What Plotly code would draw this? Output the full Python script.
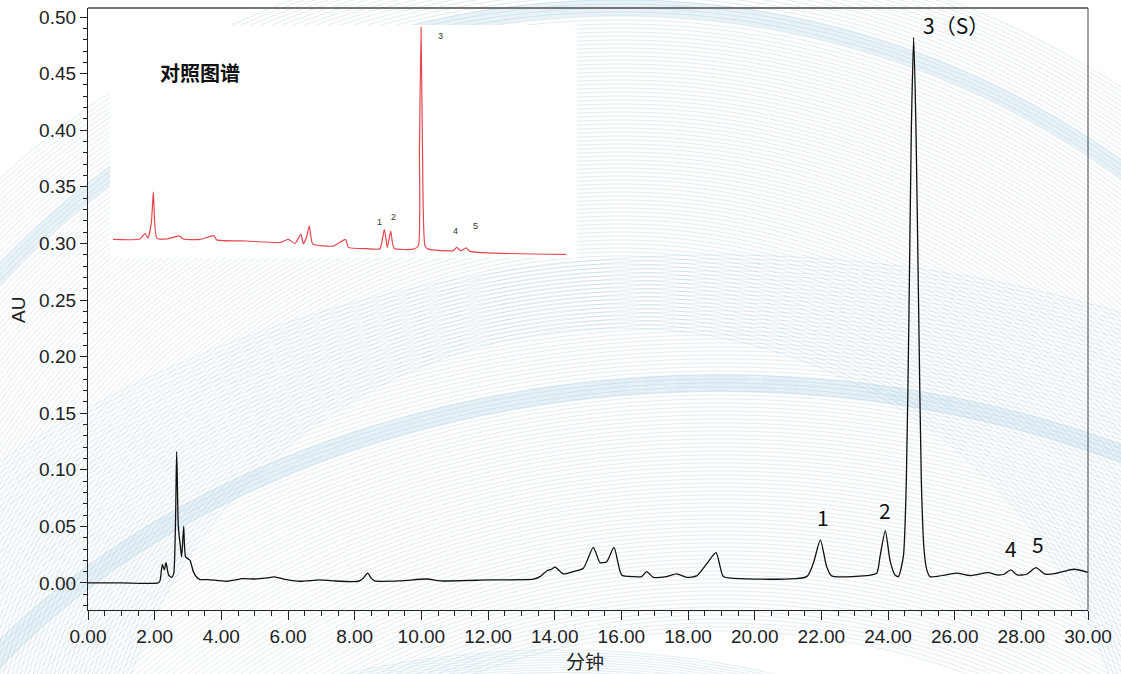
import numpy as np
import plotly.graph_objects as go

# ---- main chromatogram (retention time in min, absorbance in AU) ----
time_min = [0.00, 1.00, 2.10, 2.16, 2.23, 2.29, 2.34, 2.42, 2.51, 2.57, 2.66, 2.71,
            2.78, 2.81, 2.87, 2.93, 3.06, 3.16, 3.26, 3.36, 3.60, 4.16, 4.65, 5.00,
            5.36, 5.58, 5.96, 6.36, 6.96, 7.36, 8.11, 8.25, 8.39, 8.50, 8.60, 9.36,
            10.16, 10.56, 12.06, 13.36, 13.56, 13.76, 13.90, 14.01, 14.26, 14.56,
            14.86, 15.16, 15.36, 15.56, 15.78, 16.01, 16.36, 16.61, 16.76, 16.96,
            17.36, 17.66, 17.96, 18.26, 18.56, 18.84, 19.06, 19.36, 21.56, 21.76,
            21.97, 22.16, 22.31, 23.26, 23.66, 23.76, 23.92, 24.06, 24.21, 24.31,
            24.46, 24.55, 24.63, 24.70, 24.77, 24.84, 24.92, 25.00, 25.08, 25.16,
            25.26, 26.06, 26.46, 27.01, 27.26, 27.48, 27.68, 27.88, 28.16, 28.44,
            28.71, 29.06, 29.58, 30.00]
absorbance = [0.000, 0.000, 0.000, 0.002, 0.0165, 0.0115, 0.018, 0.007, 0.005, 0.008,
              0.116, 0.050, 0.030, 0.023, 0.050, 0.023, 0.020, 0.010, 0.005, 0.003,
              0.003, 0.0015, 0.0038, 0.0035, 0.0044, 0.0053, 0.0030, 0.0015, 0.0027,
              0.0018, 0.0015, 0.0040, 0.0086, 0.0040, 0.0018, 0.0018, 0.0035, 0.0018,
              0.0027, 0.0033, 0.0056, 0.0106, 0.0120, 0.0139, 0.0080, 0.0100, 0.0130,
              0.0315, 0.0180, 0.0188, 0.0315, 0.0071, 0.0056, 0.0056, 0.0100, 0.0050,
              0.0056, 0.0080, 0.0050, 0.0062, 0.0168, 0.0268, 0.0056, 0.0041, 0.0056,
              0.0174, 0.0380, 0.0144, 0.0062, 0.0062, 0.0086, 0.0233, 0.0462, 0.0200,
              0.0071, 0.0056, 0.0233, 0.090, 0.240, 0.400, 0.482, 0.400, 0.240, 0.090,
              0.030, 0.012, 0.0056, 0.0086, 0.0065, 0.0091, 0.0071, 0.0077, 0.0115,
              0.0071, 0.0077, 0.0135, 0.0077, 0.0086, 0.0121, 0.0094]

# peak labels
peak_text = ["1", "2", "3（S）", "4", "5"]
peak_x = [22.05, 23.91, 24.99, 27.69, 28.50]
peak_y = [0.058, 0.0645, 0.493, 0.031, 0.0345]

# ---- reference chromatogram shown in the inset ----
ref_time = [0.00, 2.24, 2.65, 2.90, 3.18, 3.34, 3.62, 4.45, 5.49, 5.82, 7.20, 8.36,
            8.58, 11.07, 13.82, 14.51, 15.07, 15.56, 15.75, 16.03, 16.25, 16.53,
            18.24, 19.26, 19.48, 21.00, 22.10, 22.46, 22.71, 22.99, 23.26, 24.86,
            25.27, 25.37, 25.50, 25.62, 25.83, 26.10, 28.17, 28.45, 28.78, 29.22,
            29.55, 37.50]
ref_abs = [-0.001, 0.000, 0.013, 0.002, 0.038, 0.107, 0.002, 0.000, 0.007, 0.000,
           -0.001, 0.0075, -0.002, -0.0045, -0.008, -0.001, -0.010, 0.011, -0.011,
           0.005, 0.030, -0.011, -0.016, -0.001, -0.019, -0.022, -0.022, 0.022,
           -0.019, 0.018, -0.021, -0.023, -0.016, 0.202, 0.480, 0.202, -0.016,
           -0.023, -0.0265, -0.019, -0.0265, -0.020, -0.028, -0.035]
ref_text = ["1", "2", "3", "4", "5"]
ref_x = [22.10, 23.26, 27.07, 28.39, 29.97]
ref_y = [0.0385, 0.0499, 0.460, 0.018, 0.0295]

W, H = 1121, 674
ML, MR, MT, MB = 88, 33, 8, 64
PW, PH = W - ML - MR, H - MT - MB


def px_to_paper(px, py):
    return (px - ML) / PW, (H - MB - py) / PH


def arc_family(cx, cy, a, b, offsets, n=140):
    """Nested half-ellipse arcs (decorative background), as one SVG path."""
    parts = []
    for d in offsets:
        s = (b - d) / b
        aa, bb = a * s, b * s
        xs = np.linspace(max(-30, cx - aa * 0.999), min(W + 30, cx + aa * 0.999), n)
        u = (xs - cx) / aa
        ys = cy - bb * np.sqrt(np.clip(1 - u ** 2, 0, None))
        keep = ys < H + 40
        xs, ys = xs[keep], ys[keep]
        if len(xs) < 2:
            continue
        pts = [px_to_paper(x, y) for x, y in zip(xs, ys)]
        parts.append("M " + " L ".join(f"{x:.4f},{y:.4f}" for x, y in pts))
    return " ".join(parts)


shapes = []
# fine background swirl lines
shapes.append(dict(type="path", xref="paper", yref="paper", layer="below",
                   path=arc_family(620, 832, 850, 832, np.arange(-60, 330, 4)),
                   line=dict(color="rgba(165,198,218,0.34)", width=1)))
shapes.append(dict(type="path", xref="paper", yref="paper", layer="below",
                   path=arc_family(720, 1037, 900, 662, np.arange(-120, 260, 4)),
                   line=dict(color="rgba(165,198,218,0.32)", width=1)))
# soft bands
shapes.append(dict(type="path", xref="paper", yref="paper", layer="below",
                   path=arc_family(620, 832, 850, 832, np.arange(0, 16, 1.5)),
                   line=dict(color="rgba(175,210,226,0.30)", width=1.4)))
shapes.append(dict(type="path", xref="paper", yref="paper", layer="below",
                   path=arc_family(720, 1037, 900, 662, np.arange(0, 18, 1.5)),
                   line=dict(color="rgba(170,206,224,0.33)", width=1.4)))
shapes.append(dict(type="path", xref="paper", yref="paper", layer="below",
                   path=arc_family(560, 1150, 700, 500, np.arange(0, 30, 2.5)),
                   line=dict(color="rgba(170,206,224,0.30)", width=1.2)))

# inset panel background
x0, y0 = px_to_paper(110, 258)
x1, y1 = px_to_paper(577, 25)
shapes.append(dict(type="rect", xref="paper", yref="paper", layer="below",
                   x0=x0, y0=y0, x1=x1, y1=y1,
                   fillcolor="rgba(255,255,255,0.96)", line=dict(width=0)))
# top and right frame of the plot box
shapes.append(dict(type="line", xref="paper", yref="paper", x0=0, y0=1, x1=1, y1=1,
                   line=dict(color="#777777", width=2)))
shapes.append(dict(type="line", xref="paper", yref="paper", x0=1, y0=0, x1=1, y1=1,
                   line=dict(color="#444444", width=1)))

fig = go.Figure()
fig.add_trace(go.Scatter(x=time_min, y=absorbance, mode="lines",
                         line=dict(color="#111111", width=1.3, shape="spline", smoothing=0.6),
                         hoverinfo="x+y", showlegend=False))
fig.add_trace(go.Scatter(x=ref_time, y=ref_abs, mode="lines", xaxis="x2", yaxis="y2",
                         line=dict(color="#e3474d", width=1.2, shape="spline", smoothing=0.5),
                         showlegend=False))

annotations = []
for t, x, y in zip(peak_text, peak_x, peak_y):
    annotations.append(dict(x=x, y=y, xref="x", yref="y", text=t, showarrow=False,
                            xanchor="left" if "S" in t else "center", yanchor="middle",
                            font=dict(family="Noto Sans CJK SC", size=21, color="#111111")))
for t, x, y in zip(ref_text, ref_x, ref_y):
    annotations.append(dict(x=x, y=y, xref="x2", yref="y2", text=t, showarrow=False,
                            xanchor="center", yanchor="middle",
                            font=dict(family="Liberation Sans", size=9, color="#333333")))
tx, ty = px_to_paper(200, 72)
annotations.append(dict(x=tx, y=ty, xref="paper", yref="paper", text="<b>对照图谱</b>",
                        showarrow=False, xanchor="center", yanchor="middle",
                        font=dict(family="Noto Sans CJK SC", size=20, color="#111111")))
ax_x, ax_y = px_to_paper(18, 310)
annotations.append(dict(x=ax_x, y=ax_y, xref="paper", yref="paper", text="AU",
                        textangle=-90, showarrow=False, xanchor="center", yanchor="middle",
                        font=dict(family="Liberation Sans", size=19, color="#222222")))
bx, by = px_to_paper(585, 660)
annotations.append(dict(x=bx, y=by, xref="paper", yref="paper", text="分钟",
                        showarrow=False, xanchor="center", yanchor="middle",
                        font=dict(family="Noto Sans CJK SC", size=19, color="#222222")))

ix0, iy0 = px_to_paper(113, 258)
ix1, iy1 = px_to_paper(566, 25)

fig.update_layout(
    width=W, height=H,
    margin=dict(l=ML, r=MR, t=MT, b=MB),
    paper_bgcolor="white",
    plot_bgcolor="rgba(0,0,0,0)",
    shapes=shapes,
    annotations=annotations,
    xaxis=dict(range=[0, 30], dtick=2, tick0=0, tickformat=".2f",
               showgrid=False, zeroline=False, showline=True, linecolor="#222222",
               linewidth=1.3, ticks="outside", ticklen=9, tickwidth=1, tickcolor="#222222",
               minor=dict(dtick=0.5, ticks="outside", ticklen=5, tickcolor="#222222",
                          showgrid=False),
               tickfont=dict(family="Liberation Sans", size=19, color="#222222")),
    yaxis=dict(range=[-0.0239, 0.508], dtick=0.05, tick0=0, tickformat=".2f",
               showgrid=False, zeroline=False, showline=True, linecolor="#222222",
               linewidth=1.3, ticks="outside", ticklen=7, tickwidth=1, tickcolor="#222222",
               minor=dict(dtick=0.01, ticks="outside", ticklen=4, tickcolor="#222222",
                          showgrid=False),
               tickfont=dict(family="Liberation Sans", size=19, color="#222222")),
    xaxis2=dict(domain=[ix0, ix1], range=[0, 37.5], anchor="y2", visible=False),
    yaxis2=dict(domain=[iy0, iy1], range=[-0.0431, 0.4853], anchor="x2", visible=False),
)

fig.write_html("out.html")
